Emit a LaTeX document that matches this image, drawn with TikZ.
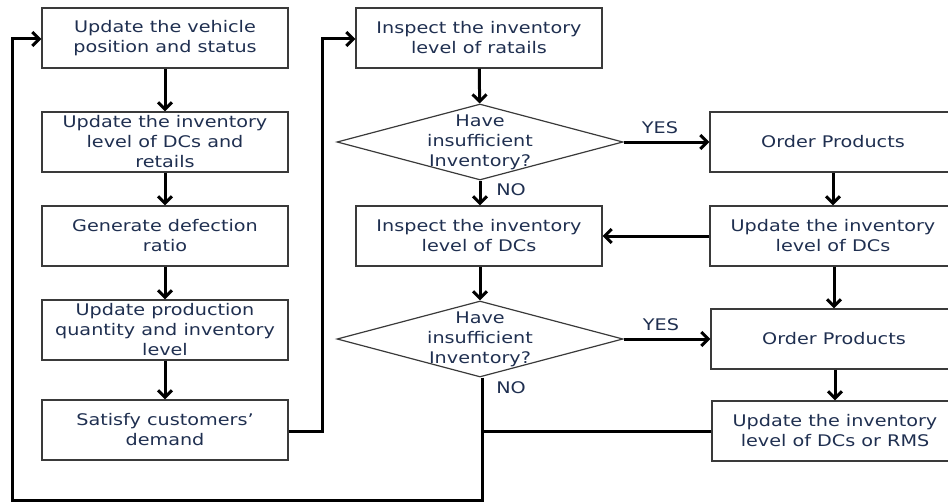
\documentclass[tikz,border=0pt]{standalone}
\usepackage{fontspec}
\setmainfont{DejaVu Sans}[FakeStretch=1.2]
\usetikzlibrary{arrows.meta,shapes.geometric}
\definecolor{txt}{HTML}{1F2F50}
\definecolor{edge}{HTML}{3A3A3A}
\tikzset{
  box/.style={draw=edge, line width=1.2pt, rectangle, minimum width=246pt, minimum height=60pt,
    inner sep=0pt, align=center, text=txt, font=\fontsize{16}{20}\selectfont},
  dia/.style={draw=edge, line width=1.2pt, diamond, minimum width=286pt, minimum height=76pt, inner sep=0pt},
  dtext/.style={align=center, text=txt, font=\fontsize{16}{20}\selectfont, inner sep=0pt},
  lbl/.style={text=txt, font=\fontsize{16}{20}\selectfont, inner sep=0pt},
  conn/.style={line width=3pt, black},
  arr/.style={conn, -{Straight Barb[length=7pt,width=14pt]}}
}
\begin{document}
\begin{tikzpicture}[x=1pt,y=-1pt]
\useasboundingbox (0,0) rectangle (948,503);
\clip (0,0) rectangle (948,503);
% left column
\node[box] (b1) at (165,38) {Update the vehicle\\position and status};
\node[box] (b2) at (165,142) {Update the inventory\\level of DCs and\\retails};
\node[box] (b3) at (165,236) {Generate defection\\ratio};
\node[box] (b4) at (165,330) {Update production\\quantity and inventory\\level};
\node[box] (b5) at (165,430) {Satisfy customers'\\demand};
% middle column
\node[box] (m1) at (479,38) {Inspect the inventory\\level of ratails};
\node[dia] (d1) at (480,142) {};
\node[dtext] (t1) at (480,142) {Have\\insufficient\\Inventory?};
\node[box] (m2) at (479,236) {Inspect the inventory\\level of DCs};
\node[dia] (d2) at (480,339) {};
\node[dtext] (t2) at (480,339) {Have\\insufficient\\Inventory?};
% right column
\node[box] (r1) at (833,142) {Order Products};
\node[box] (r2) at (833,236) {Update the inventory\\level of DCs};
\node[box] (r3) at (834,339) {Order Products};
\node[box] (r4) at (835,431) {Update the inventory\\level of DCs or RMS};
% labels
\node[lbl] (no1) at (511,190) {NO};
\node[lbl] (no2) at (511,388) {NO};
\node[lbl] (yes1) at (660,128) {YES};
\node[lbl] (yes2) at (661,325) {YES};
% coordinates
\coordinate (c1) at (322,431);
\coordinate (c2) at (322,39);
\coordinate (j1) at (482,431);
\coordinate (c3) at (482,500);
\coordinate (c4) at (12,500);
\coordinate (c5) at (12,39);
% connectors
\draw[arr] (b1) -- (b2);
\draw[arr] (b2) -- (b3);
\draw[arr] (b3) -- (b4);
\draw[arr] (b4) -- (b5);
\draw[arr] (b5.east |- c1) -- (c1) -- (c2) -- (m1.west |- c2);
\draw[arr] (m1) -- (d1);
\draw[arr] (d1.south) -- (m2.north -| d1.south);
\draw[arr] (d1.east) -- (r1.west);
\draw[arr] (r1) -- (r2);
\draw[arr] (r2.west) -- (m2.east);
\draw[arr] (m2.south -| d2.north) -- (d2.north);
\draw[arr] (d2.east) -- (r3.west);
\draw[arr] (r2.south -| r3.north) -- (r3.north);
\draw[arr] (r3.south -| r4.north) -- (r4.north);
\draw[conn] (r4.west) -- (j1);
\draw[arr] (d2.south -| c3) -- (c3) -- (c4) -- (c5) -- (b1.west |- c5);
\end{tikzpicture}
\end{document}
